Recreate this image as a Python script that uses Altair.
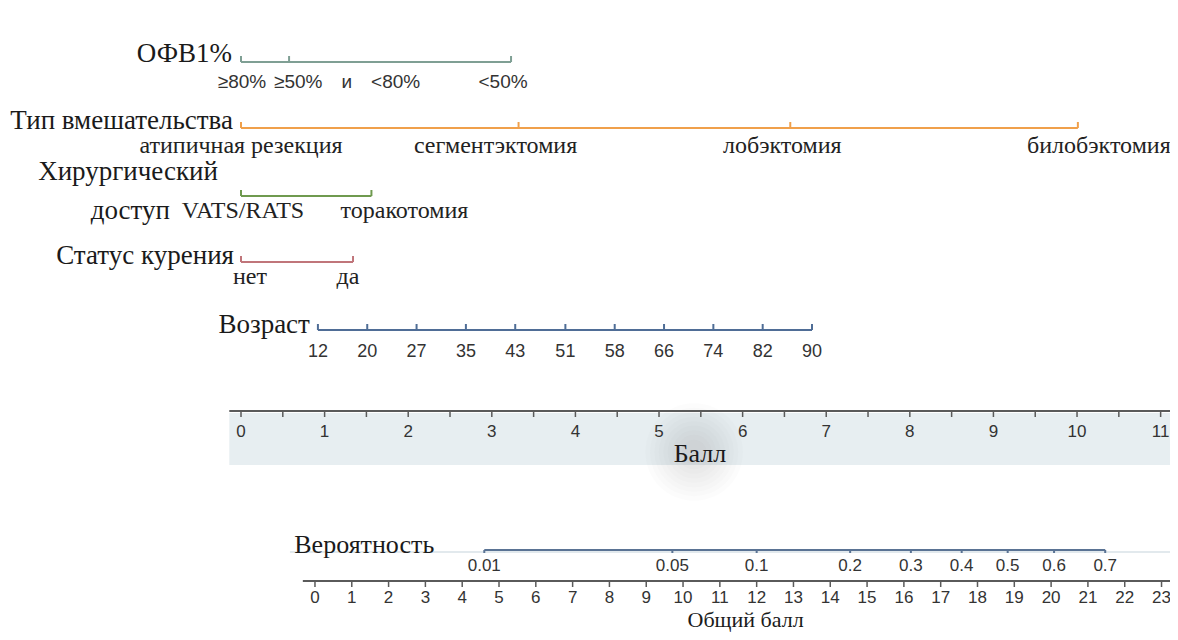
import altair as alt
import pandas as pd

# ---------------- data ----------------
fev_labels = ["≥80%", "≥50%\u2003и\u2003<80%", "<50%"]
fev_points = [0.0, 0.575, 3.23]

surgery_labels = ["атипичная резекция", "сегментэктомия", "лобэктомия", "билобэктомия"]
surgery_points = [0.0, 3.32, 6.57, 10.01]

access_labels = ["VATS/RATS", "торакотомия"]
access_points = [0.0, 1.56]

smoking_labels = ["нет", "да"]
smoking_points = [0.0, 1.34]

age_labels = ["12", "20", "27", "35", "43", "51", "58", "66", "74", "82", "90"]
age_points = [0.92, 1.51, 2.10, 2.69, 3.28, 3.88, 4.47, 5.06, 5.65, 6.24, 6.83]

points_major = [0, 1, 2, 3, 4, 5, 6, 7, 8, 9, 10, 11]
points_minor = [0.5, 1.5, 2.5, 3.5, 4.5, 5.5, 6.5, 7.5, 8.5, 9.5, 10.5]

total_ticks = list(range(0, 24))

prob_labels = ["0.01", "0.05", "0.1", "0.2", "0.3", "0.4", "0.5", "0.6", "0.7"]
prob_total = [4.6, 9.71, 12.0, 14.54, 16.19, 17.57, 18.82, 20.08, 21.47]

# ---------------- layout (positions / styles) ----------------
W, H = 1162, 624
PTS_DOMAIN = [-2.787, 11.112]
TOT_DOMAIN = [-8.34, 23.23]
PTS_PER_PX = (PTS_DOMAIN[1] - PTS_DOMAIN[0]) / W
TOT_PER_PX = (TOT_DOMAIN[1] - TOT_DOMAIN[0]) / W
Y_SCALE = alt.Scale(domain=[0, H], reverse=True)
SERIF = "Liberation Serif"
SANS = "Liberation Sans"

rows = [
    dict(title=["ОФВ1%"], labels=fev_labels, pts=fev_points, line_y=54, label_y=74,
         color="#7f9f94", font="sans", nudge=[1, 58, -8], title_y=[46], title_dx=[-9]),
    dict(title=["Тип вмешательства"], labels=surgery_labels, pts=surgery_points, line_y=120,
         label_y=138, color="#f0a04b", font="serif", nudge=[0, -23, -8, 21], title_y=[113], title_dx=[-8]),
    dict(title=["Хирургический", "доступ"], labels=access_labels, pts=access_points, line_y=188,
         label_y=203, color="#6f9a4f", font="serif", nudge=[2, 33], title_y=[164, 203], title_dx=[-23, -71]),
    dict(title=["Статус курения"], labels=smoking_labels, pts=smoking_points, line_y=254,
         label_y=269, color="#c0757a", font="serif", nudge=[9, -5], title_y=[248], title_dx=[-7]),
    dict(title=["Возраст"], labels=age_labels, pts=age_points, line_y=322, label_y=344,
         color="#4f6d96", font="sans", nudge=[0] * len(age_labels), title_y=[317], title_dx=[-8]),
]
ROW_TICK = 6
AX_Y, AX_LABEL_Y, AX_TICK = 403, 424, 6
AX_EXT = (-0.14, 11.15)
BAND_Y = (405, 457)
BALL_Y = 444
PROB_Y, PROB_LABEL_Y, PROB_TITLE_Y, PROB_TICK = 542, 558, 537, 3
FAINT_EXT = (-0.68, 23.23)
TOT_Y, TOT_LABEL_Y, TOT_TITLE_BASE, TOT_TICK = 573, 590, 619, 6
TOT_EXT = (-0.33, 23.23)
AXIS_COLOR = "#5a5a5a"

# ---------------- build tables ----------------
rules_p, sans_p, serif_p, titles_p = [], [], [], []
for r in rows:
    lo, hi = min(r["pts"]), max(r["pts"])
    rules_p.append(dict(x=lo, x2=hi, y=r["line_y"], y2=r["line_y"], c=r["color"], w=2))
    for v in r["pts"]:
        rules_p.append(dict(x=v, x2=v, y=r["line_y"], y2=r["line_y"] - ROW_TICK, c=r["color"], w=2))
    target = sans_p if r["font"] == "sans" else serif_p
    for lab, v, n in zip(r["labels"], r["pts"], r["nudge"]):
        target.append(dict(x=v + n * PTS_PER_PX, y=r["label_y"], t=lab))
    for t, ty, tdx in zip(r["title"], r["title_y"], r["title_dx"]):
        titles_p.append(dict(x=r["pts"][0] + tdx * PTS_PER_PX, y=ty, t=t))

fev_rows = [d for d in sans_p if d["t"] in fev_labels]
age_rows = [d for d in sans_p if d["t"] in age_labels]

# points axis
rules_p.append(dict(x=AX_EXT[0], x2=AX_EXT[1], y=AX_Y, y2=AX_Y, c=AXIS_COLOR, w=2))
for v in points_major + points_minor:
    rules_p.append(dict(x=v, x2=v, y=AX_Y, y2=AX_Y + AX_TICK, c=AXIS_COLOR, w=1.5))
axis_labels_p = [dict(x=v, y=AX_LABEL_Y, t=str(v)) for v in points_major]

rules_t, labels_t = [], []
rules_t.append(dict(x=FAINT_EXT[0], x2=FAINT_EXT[1], y=PROB_Y + 2, y2=PROB_Y + 2, c="#e2e9ed", w=2))
rules_t.append(dict(x=prob_total[0], x2=prob_total[-1], y=PROB_Y, y2=PROB_Y, c="#5a7394", w=2))
for v in prob_total:
    rules_t.append(dict(x=v, x2=v, y=PROB_Y, y2=PROB_Y + PROB_TICK, c="#5a7394", w=2))
for lab, v in zip(prob_labels, prob_total):
    labels_t.append(dict(x=v, y=PROB_LABEL_Y, t=lab))
rules_t.append(dict(x=TOT_EXT[0], x2=TOT_EXT[1], y=TOT_Y, y2=TOT_Y, c=AXIS_COLOR, w=2))
for v in total_ticks:
    rules_t.append(dict(x=v, x2=v, y=TOT_Y, y2=TOT_Y + TOT_TICK, c=AXIS_COLOR, w=1.5))
    labels_t.append(dict(x=v, y=TOT_LABEL_Y, t=str(v)))

xp = lambda f="x": alt.X(f"{f}:Q", scale=alt.Scale(domain=PTS_DOMAIN), axis=None)
xt = lambda f="x": alt.X(f"{f}:Q", scale=alt.Scale(domain=TOT_DOMAIN), axis=None)
yy = lambda f="y": alt.Y(f"{f}:Q", scale=Y_SCALE, axis=None)


def text_layer(rows_, xenc, font, size, align="center", baseline="middle", color="#222222"):
    return alt.Chart(pd.DataFrame(rows_)).mark_text(
        font=font, fontSize=size, color=color, baseline=baseline, align=align).encode(
        x=xenc(), y=yy(), text="t:N")


# band behind points axis
band = alt.Chart(pd.DataFrame([dict(x=AX_EXT[0], x2=AX_EXT[1], y=BAND_Y[0], y2=BAND_Y[1])])).mark_rect(
    color="#e7eef1").encode(x=xp(), x2="x2:Q", y=yy(), y2="y2:Q")

# soft smudge around the axis title
blob_df = pd.DataFrame([dict(x=5.42, y=BALL_Y, s=s) for s in
                        [9500, 7800, 6300, 5000, 3800, 2800, 1900, 1200, 600]])
blob = alt.Chart(blob_df).mark_circle(color="#8a8a8a", opacity=0.022).encode(
    x=xp(), y=yy(), size=alt.Size("s:Q", scale=None))

rule_p = alt.Chart(pd.DataFrame(rules_p)).mark_rule().encode(
    x=xp(), x2="x2:Q", y=yy(), y2="y2:Q",
    color=alt.Color("c:N", scale=None), strokeWidth=alt.StrokeWidth("w:Q", scale=None))

fev_text = text_layer(fev_rows, xp, SANS, 19, color="#333333")
age_text = text_layer(age_rows, xp, SANS, 18, color="#333333")
serif_row = text_layer(serif_p, xp, SERIF, 24)
title_row = text_layer(titles_p, xp, SERIF, 27, align="right", color="#1a1a1a")
axis_lab_p = text_layer(axis_labels_p, xp, SANS, 17, color="#333333")
ball = text_layer([dict(x=5.49, y=BALL_Y + 2, t="Балл")], xp, SERIF, 26, color="#1a1a1a")

rule_t = alt.Chart(pd.DataFrame(rules_t)).mark_rule().encode(
    x=xt(), x2="x2:Q", y=yy(), y2="y2:Q",
    color=alt.Color("c:N", scale=None), strokeWidth=alt.StrokeWidth("w:Q", scale=None))

lab_t = text_layer(labels_t, xt, SANS, 17, color="#333333")
prob_title = text_layer([dict(x=prob_total[0] - 50 * TOT_PER_PX, y=PROB_TITLE_Y, t="Вероятность")],
                        xt, SERIF, 26, align="right", color="#1a1a1a")
tot_title = text_layer([dict(x=11.7, y=TOT_TITLE_BASE, t="Общий балл")], xt, SERIF, 22,
                       baseline="alphabetic", color="#1a1a1a")

chart = alt.layer(
    band, blob, rule_p, fev_text, age_text, serif_row, title_row, axis_lab_p, ball,
    rule_t, lab_t, prob_title, tot_title
).resolve_scale(x="independent").properties(
    width=W, height=H, padding=0, autosize=alt.AutoSizeParams(type="none")
).configure_view(stroke=None)

chart.save("out.html", embed_options={"renderer": "svg", "actions": False})
